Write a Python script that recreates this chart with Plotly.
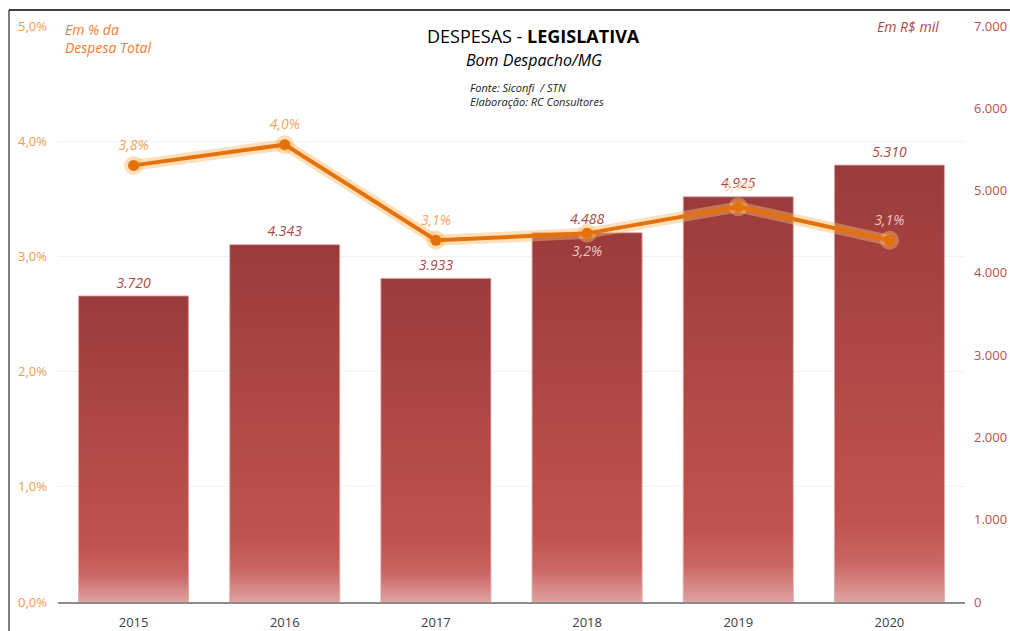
import plotly.graph_objects as go

# ---- data ----
years = ["2015", "2016", "2017", "2018", "2019", "2020"]
despesa_mil = [3720, 4343, 3933, 4488, 4925, 5310]          # R$ mil (bars, right axis)
pct_total = [3.79, 3.97, 3.14, 3.20, 3.43, 3.14]            # % da despesa total (line, left axis)
bar_labels = ["3.720", "4.343", "3.933", "4.488", "4.925", "5.310"]
pct_labels = ["3,8%", "4,0%", "3,1%", "3,2%", "3,4%", "3,1%"]
left_ticks = [0, 1, 2, 3, 4, 5]
left_ticktext = ["0,0%", "1,0%", "2,0%", "3,0%", "4,0%", "5,0%"]
right_ticks = [0, 1000, 2000, 3000, 4000, 5000, 6000, 7000]
right_ticktext = ["0", "1.000", "2.000", "3.000", "4.000", "5.000", "6.000", "7.000"]

FONT = "Open Sans"
half_w = 0.364
xpos = list(range(len(years)))

W, H = 1010, 631
L, R, T, B = 58, 45, 26, 29
PW, PH = W - L - R, H - T - B


def px(x_page):
    return (x_page - L) / PW


def py(y_page):
    return (H - B - y_page) / PH


fig = go.Figure()

# bars (gradient-filled rectangles built from data values)
for i, v in zip(xpos, despesa_mil):
    fig.add_trace(go.Scatter(
        x=[i - half_w, i - half_w, i + half_w, i + half_w, i - half_w],
        y=[0, v, v, 0, 0],
        mode="lines", fill="toself",
        line=dict(color="rgba(225,170,170,0.9)", width=1),
        fillgradient=dict(type="vertical", start=0, stop=v,
                          colorscale=[[0, "#DEA3A1"], [0.09, "#CA6663"],
                                      [0.18, "#C0534F"], [1, "#9A3B3B"]]),
        yaxis="y", hoverinfo="skip", showlegend=False))

# bar value labels
fig.add_trace(go.Scatter(
    x=xpos, y=despesa_mil, mode="markers+text", text=bar_labels,
    marker=dict(size=6, color="rgba(0,0,0,0)"),
    textposition="top center",
    textfont=dict(family=FONT, size=14, color="#A9484A", style="italic"),
    yaxis="y", hoverinfo="skip", showlegend=False))

# line glow
fig.add_trace(go.Scatter(
    x=xpos, y=pct_total, mode="lines+markers",
    line=dict(color="rgba(253,185,100,0.45)", width=11),
    marker=dict(size=19, color="rgba(253,185,100,0.45)"),
    yaxis="y2", hoverinfo="skip", showlegend=False))

# line
fig.add_trace(go.Scatter(
    x=xpos, y=pct_total, mode="lines+markers",
    line=dict(color="#E4720C", width=4),
    marker=dict(size=11, color="#E4720C"),
    yaxis="y2", hoverinfo="skip", showlegend=False))

# line value labels
fig.add_trace(go.Scatter(
    x=xpos, y=pct_total, mode="markers+text",
    marker=dict(size=18, color="rgba(0,0,0,0)"),
    text=pct_labels,
    textposition=["top center", "top center", "top center", "bottom center", "top center", "top center"],
    textfont=dict(family=FONT, size=14, style="italic",
                  color=["#F4A35E", "#F4A35E", "#F4A35E", "#F2C9C3", "#FAD3B2", "#EFC6C3"]),
    yaxis="y2", hoverinfo="skip", showlegend=False))

fig.update_layout(
    width=W, height=H,
    paper_bgcolor="white", plot_bgcolor="white",
    margin=dict(l=L, r=R, t=T, b=B, autoexpand=False),
    font=dict(family=FONT, size=13, color="#404040"),
    xaxis=dict(range=[-0.5, 5.5], tickvals=xpos, ticktext=years, automargin=False,
               showgrid=False, zeroline=False, showline=True,
               linecolor="#8C8C8C", linewidth=1.5, ticks="", ticklabelstandoff=8,
               tickfont=dict(family=FONT, size=13, color="#404040")),
    yaxis=dict(range=[0, 7000], tickvals=right_ticks, ticktext=right_ticktext, automargin=False,
               side="right", showgrid=False, zeroline=False, ticklabelstandoff=8,
               tickfont=dict(family=FONT, size=13, color="#B65250")),
    yaxis2=dict(range=[0, 5], tickvals=left_ticks, ticktext=left_ticktext, automargin=False,
                side="left", overlaying="y", showgrid=True, gridcolor="#F2F2F2",
                zeroline=False, ticklabelstandoff=10,
                tickfont=dict(family=FONT, size=13, color="#F39A4F")),
)

# titles / notes
fig.add_annotation(x=px(533), y=py(36), xref="paper", yref="paper", xanchor="center", yanchor="middle",
                   text="DESPESAS - <b>LEGISLATIVA</b>", showarrow=False,
                   font=dict(family=FONT, size=18, color="#000000"))
fig.add_annotation(x=px(534), y=py(60), xref="paper", yref="paper", xanchor="center", yanchor="middle",
                   text="<i>Bom Despacho/MG</i>", showarrow=False,
                   font=dict(family=FONT, size=16, color="#000000"))
fig.add_annotation(x=px(468), y=py(94), xref="paper", yref="paper", xanchor="left", yanchor="middle",
                   text="<i>Fonte: Siconfi  / STN<br>Elaboração: RC Consultores</i>", showarrow=False,
                   align="left", font=dict(family=FONT, size=11, color="#222222"))
fig.add_annotation(x=px(63), y=py(18), xref="paper", yref="paper", xanchor="left", yanchor="top",
                   text="<i>Em % da<br>Despesa Total</i>", showarrow=False, align="left",
                   font=dict(family=FONT, size=14, color="#ED7D31"))
fig.add_annotation(x=px(941), y=py(26), xref="paper", yref="paper", xanchor="right", yanchor="middle",
                   text="<i>Em R$ mil</i>", showarrow=False,
                   font=dict(family=FONT, size=14, color="#A9484A"))

# frame lines
fig.add_shape(type="line", xref="paper", yref="paper",
              x0=px(9), x1=px(9), y0=py(640), y1=py(10),
              line=dict(color="#7F7F7F", width=2))
fig.add_shape(type="line", xref="paper", yref="paper",
              x0=px(9), x1=px(1012), y0=py(10), y1=py(10),
              line=dict(color="#000000", width=1.5))

fig.write_html("out.html", config={"displayModeBar": False},
               post_script="document.body.style.margin='0';document.body.style.overflow='hidden';")
